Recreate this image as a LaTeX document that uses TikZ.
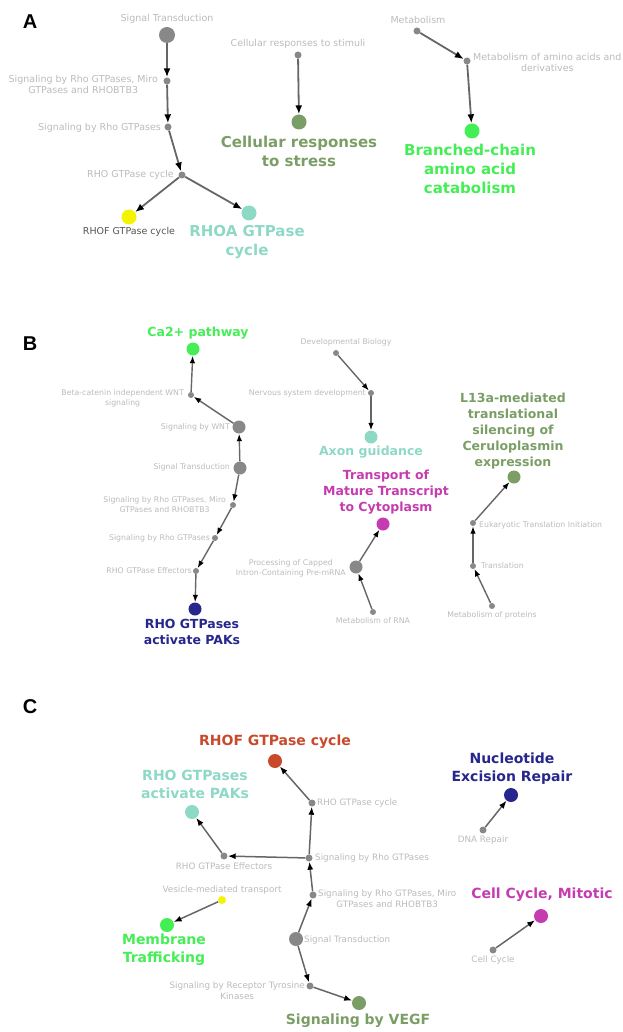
\documentclass[tikz,border=0pt]{standalone}
\usepackage{fontspec}
\setmainfont{DejaVu Sans}
\newfontfamily\panelfont{Liberation Sans}
\usetikzlibrary{arrows.meta}
\definecolor{gnode}{HTML}{888888}
\definecolor{gtext}{HTML}{BBBBBB}
\definecolor{dtext}{HTML}{555555}
\definecolor{edgec}{HTML}{666666}
\definecolor{cyel}{HTML}{F4F400}
\definecolor{cturq}{HTML}{8ED9C6}
\definecolor{cgreen}{HTML}{7A9E66}
\definecolor{cbright}{HTML}{44EE55}
\definecolor{cnavy}{HTML}{26268C}
\definecolor{cmag}{HTML}{C43CB0}
\definecolor{cred}{HTML}{C84A2A}
\tikzset{
  dot/.style={circle,inner sep=0pt,minimum size=#1},
  gdot/.style={dot=#1,fill=gnode},
  linkA/.style={draw=edgec,line width=1.8pt,-{Latex[length=9pt,width=7pt,color=black]}},
  linkB/.style={draw=edgec,line width=1.4pt,-{Latex[length=7.5pt,width=5.5pt,color=black]}},
  linkC/.style={draw=edgec,line width=1.5pt,-{Latex[length=8pt,width=6pt,color=black]}},
  lbl/.style={inner sep=0pt,align=center},
  smA/.style={lbl,text=gtext,font=\fontsize{9.5}{11}\selectfont},
  smB/.style={lbl,text=gtext,font=\fontsize{7.8}{10}\selectfont},
  smC/.style={lbl,text=gtext,font=\fontsize{8.8}{11}\selectfont},
  bigA/.style={lbl,font=\bfseries\fontsize{15}{19}\selectfont},
  bigB/.style={lbl,font=\bfseries\fontsize{12.5}{16}\selectfont},
  bigC/.style={lbl,font=\bfseries\fontsize{14}{18}\selectfont},
  panel/.style={lbl,font=\panelfont\bfseries\fontsize{20}{20}\selectfont}
}
\begin{document}
\begin{tikzpicture}[x=1pt,y=-1pt]
\useasboundingbox (0,0) rectangle (622,1032);
% ---------------- Panel A ----------------
\node[panel] (pA) at (30,22) {A};
\node[gdot=16pt] (a1) at (167,35) {};
\node[gdot=7pt] (a2) at (167,81) {};
\node[gdot=7pt] (a3) at (168,127) {};
\node[gdot=7pt] (a4) at (182,175) {};
\node[dot=15pt,fill=cyel] (a5) at (129,217) {};
\node[dot=15pt,fill=cturq] (a6) at (249,213) {};
\node[gdot=7pt] (a7) at (298,55) {};
\node[dot=15pt,fill=cgreen] (a8) at (299,122) {};
\node[gdot=7pt] (a9) at (417,31) {};
\node[gdot=7pt] (a10) at (467,61) {};
\node[dot=15pt,fill=cbright] (a11) at (472,131) {};
\node[smA] (la1) at (167,19) {Signal Transduction};
\node[smA,anchor=east] (la2) at (158,84) {Signaling by Rho GTPases, Miro\\GTPases and RHOBTB3};
\node[smA,anchor=east] (la3) at (161,128) {Signaling by Rho GTPases};
\node[smA,anchor=east] (la4) at (174,175) {RHO GTPase cycle};
\node[smA,text=dtext] (la5) at (129,232) {RHOF GTPase cycle};
\node[bigA,text=cturq] (la6) at (247,242) {RHOA GTPase\\cycle};
\node[smA] (la7) at (298,44) {Cellular responses to stimuli};
\node[bigA,text=cgreen] (la8) at (299,151) {Cellular responses\\to stress};
\node[smA] (la9) at (418,20) {Metabolism};
\node[smA,anchor=west] (la10) at (473,62) {Metabolism of amino acids and\\derivatives};
\node[bigA,text=cbright] (la11) at (470,169) {Branched-chain\\amino acid\\catabolism};
\draw[linkA] (a1) -- (a2);
\draw[linkA] (a2) -- (a3);
\draw[linkA] (a3) -- (a4);
\draw[linkA] (a4) -- (a5);
\draw[linkA] (a4) -- (a6);
\draw[linkA] (a7) -- (a8);
\draw[linkA] (a9) -- (a10);
\draw[linkA] (a10) -- (a11);
% ---------------- Panel B ----------------
\node[panel] (pB) at (30,344) {B};
\node[dot=13pt,fill=cbright] (b1) at (193,349) {};
\node[gdot=6pt] (b2) at (191,395) {};
\node[gdot=13pt] (b3) at (239,427) {};
\node[gdot=13pt] (b4) at (240,468) {};
\node[gdot=6pt] (b5) at (233,505) {};
\node[gdot=6pt] (b6) at (215,538) {};
\node[gdot=6pt] (b7) at (196,571) {};
\node[dot=13pt,fill=cnavy] (b8) at (195,609) {};
\node[bigB,text=cbright] (lb1) at (198,333) {Ca2+ pathway};
\node[smB,anchor=east] (lb2) at (184,398) {Beta-catenin independent WNT\\signaling};
\node[smB,anchor=east] (lb3) at (230,427) {Signaling by WNT};
\node[smB,anchor=east] (lb4) at (230,467) {Signal Transduction};
\node[smB,anchor=east] (lb5) at (226,505) {Signaling by Rho GTPases, Miro\\GTPases and RHOBTB3};
\node[smB,anchor=east] (lb6) at (210,538) {Signaling by Rho GTPases};
\node[smB,anchor=east] (lb7) at (192,571) {RHO GTPase Effectors};
\node[bigB,text=cnavy] (lb8) at (192,632) {RHO GTPases\\activate PAKs};
\draw[linkB] (b3) -- (b2);
\draw[linkB] (b2) -- (b1);
\draw[linkB] (b4) -- (b3);
\draw[linkB] (b4) -- (b5);
\draw[linkB] (b5) -- (b6);
\draw[linkB] (b6) -- (b7);
\draw[linkB] (b7) -- (b8);
% middle column
\node[gdot=6pt] (b9) at (336,353) {};
\node[gdot=6pt] (b10) at (371,393) {};
\node[dot=13pt,fill=cturq] (b11) at (371,437) {};
\node[dot=13pt,fill=cmag] (b12) at (383,524) {};
\node[gdot=13pt] (b13) at (356,567) {};
\node[gdot=6pt] (b14) at (373,612) {};
\node[smB] (lb9) at (346,342) {Developmental Biology};
\node[smB,anchor=east] (lb10) at (366,393) {Nervous system development};
\node[bigB,text=cturq] (lb11) at (371,452) {Axon guidance};
\node[bigB,text=cmag] (lb12) at (386,492) {Transport of\\Mature Transcript\\to Cytoplasm};
\node[smB,anchor=east] (lb13) at (346,568) {Processing of Capped\\Intron-Containing Pre-mRNA};
\node[smB] (lb14) at (373,621) {Metabolism of RNA};
\draw[linkB] (b9) -- (b10);
\draw[linkB] (b10) -- (b11);
\draw[linkB] (b14) -- (b13);
\draw[linkB] (b13) -- (b12);
% right column
\node[dot=13pt,fill=cgreen] (b15) at (514,477) {};
\node[gdot=6pt] (b16) at (473,523) {};
\node[gdot=6pt] (b17) at (473,566) {};
\node[gdot=6pt] (b18) at (492,606) {};
\node[bigB,text=cgreen] (lb15) at (513,431) {L13a-mediated\\translational\\silencing of\\Ceruloplasmin\\expression};
\node[smB,anchor=west] (lb16) at (479,525) {Eukaryotic Translation Initiation};
\node[smB,anchor=west] (lb17) at (481,566) {Translation};
\node[smB] (lb18) at (492,615) {Metabolism of proteins};
\draw[linkB] (b18) -- (b17);
\draw[linkB] (b17) -- (b16);
\draw[linkB] (b16) -- (b15);
% ---------------- Panel C ----------------
\node[panel] (pC) at (30,707) {C};
\node[dot=14pt,fill=cred] (c1) at (275,761) {};
\node[gdot=7pt] (c2) at (312,803) {};
\node[dot=14pt,fill=cturq] (c3) at (192,812) {};
\node[gdot=7pt] (c4) at (309,858) {};
\node[gdot=7pt] (c5) at (224,856) {};
\node[dot=8pt,fill=cyel] (c6) at (222,900) {};
\node[dot=14pt,fill=cbright] (c7) at (167,925) {};
\node[gdot=7pt] (c8) at (313,895) {};
\node[gdot=14pt] (c9) at (296,939) {};
\node[gdot=7pt] (c10) at (310,986) {};
\node[dot=14pt,fill=cgreen] (c11) at (359,1003) {};
\node[dot=14pt,fill=cnavy] (c12) at (511,795) {};
\node[gdot=7pt] (c13) at (483,830) {};
\node[dot=14pt,fill=cmag] (c14) at (541,916) {};
\node[gdot=7pt] (c15) at (493,950) {};
\node[bigC,text=cred] (lc1) at (275,742) {RHOF GTPase cycle};
\node[smC,anchor=west] (lc2) at (317,803) {RHO GTPase cycle};
\node[bigC,text=cturq] (lc3) at (195,784) {RHO GTPases\\activate PAKs};
\node[smC,anchor=west] (lc4) at (315,858) {Signaling by Rho GTPases};
\node[smC] (lc5) at (224,866) {RHO GTPase Effectors};
\node[smC] (lc6) at (222,890) {Vesicle-mediated transport};
\node[bigC,text=cbright] (lc7) at (164,950) {Membrane\\Trafficking};
\node[smC,anchor=west] (lc8) at (318,899) {Signaling by Rho GTPases, Miro\\GTPases and RHOBTB3};
\node[smC,anchor=west] (lc9) at (304,940) {Signal Transduction};
\node[smC,anchor=east] (lc10) at (305,991) {Signaling by Receptor Tyrosine\\Kinases};
\node[bigC,text=cgreen] (lc11) at (358,1021) {Signaling by VEGF};
\node[bigC,text=cnavy] (lc12) at (512,769) {Nucleotide\\Excision Repair};
\node[smC] (lc13) at (483,840) {DNA Repair};
\node[bigC,text=cmag] (lc14) at (542,895) {Cell Cycle, Mitotic};
\node[smC] (lc15) at (493,960) {Cell Cycle};
\draw[linkC] (c9) -- (c8);
\draw[linkC] (c8) -- (c4);
\draw[linkC] (c4) -- (c2);
\draw[linkC] (c2) -- (c1);
\draw[linkC] (c4) -- (c5);
\draw[linkC] (c5) -- (c3);
\draw[linkC] (c6) -- (c7);
\draw[linkC] (c9) -- (c10);
\draw[linkC] (c10) -- (c11);
\draw[linkC] (c13) -- (c12);
\draw[linkC] (c15) -- (c14);
\end{tikzpicture}
\end{document}
